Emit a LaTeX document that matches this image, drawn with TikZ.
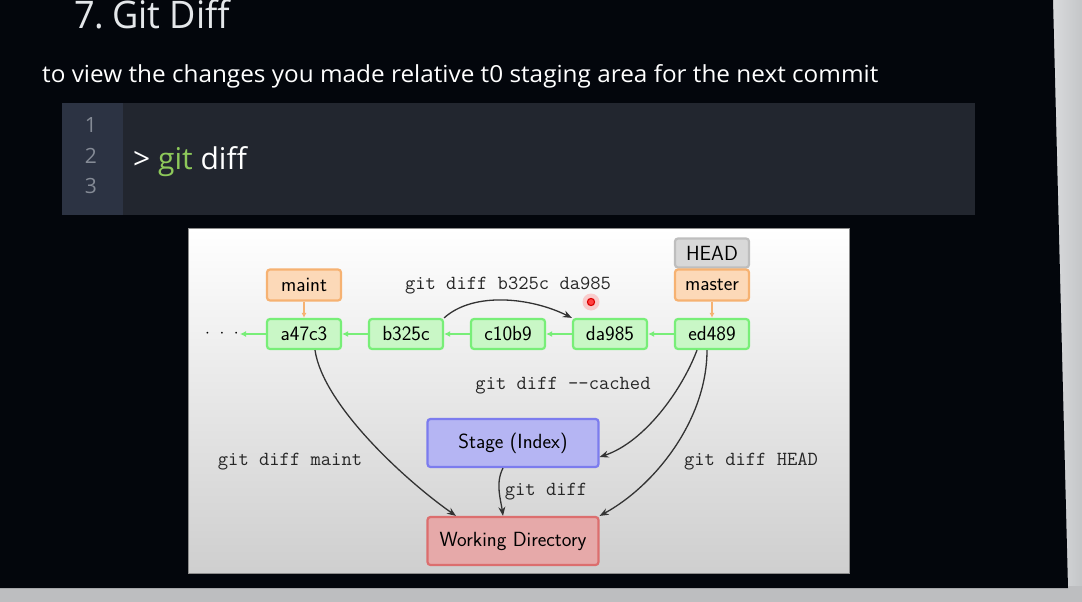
\documentclass[tikz,border=0pt]{standalone}
\usepackage{fontspec}
\newfontfamily\slidefont{Open Sans}
\newfontfamily\subfont[FakeStretch=1.035]{Open Sans}
\newfontfamily\headfont[FakeStretch=0.95]{Open Sans}
\usetikzlibrary{arrows.meta}

\definecolor{screenbg}{HTML}{03060C}
\definecolor{framelight}{HTML}{E2E3E5}
\definecolor{framedark}{HTML}{C4C6C8}
\definecolor{framebottom}{HTML}{BDBEC0}
\definecolor{codebg}{HTML}{22262F}
\definecolor{gutterbg}{HTML}{2C3343}
\definecolor{lineno}{HTML}{858B96}
\definecolor{gitgreen}{HTML}{8DC85A}
\definecolor{titlecol}{HTML}{E4E7EA}
\definecolor{commitfill}{HTML}{C9F7C6}
\definecolor{commitdraw}{HTML}{78EE78}
\definecolor{branchfill}{HTML}{FCD9B8}
\definecolor{branchdraw}{HTML}{F6B272}
\definecolor{headfill}{HTML}{D8D8D8}
\definecolor{headdraw}{HTML}{BEBEBE}
\definecolor{stagefill}{HTML}{B5B5F3}
\definecolor{stagedraw}{HTML}{7C7CEE}
\definecolor{wdfill}{HTML}{E6A9A9}
\definecolor{wddraw}{HTML}{DC6E6E}
\definecolor{linkcol}{HTML}{333333}

\tikzset{
  box/.style={line width=2.2pt, rounded corners=3pt, inner sep=0pt,
    font=\sffamily\fontsize{20.5}{20.5}\selectfont},
  commit/.style={box, draw=commitdraw, fill=commitfill, minimum width=74pt, minimum height=30pt},
  branch/.style={box, draw=branchdraw, fill=branchfill, minimum width=74pt, minimum height=31pt},
  headbox/.style={box, draw=headdraw, fill=headfill, minimum width=74pt, minimum height=29pt},
  area/.style={box, minimum width=171pt, minimum height=48pt},
  parent/.style={draw=commitdraw, line width=1.8pt, -{Latex[length=6pt,width=6pt]}},
  points/.style={draw=branchdraw, line width=1.5pt, -{Latex[length=5pt,width=5pt]}},
  diffcurve/.style={draw=linkcol, line width=1.3pt, -{Stealth[length=9pt,width=7pt]}},
  cmd/.style={font=\ttfamily\fontsize{20}{20}\selectfont, text=black!85, inner sep=0pt}
}

\begin{document}
\begin{tikzpicture}[x=1pt,y=-1pt]
\useasboundingbox (0,0) rectangle (1082,602);

% screen frame and dark slide area
\shade[left color=framelight, right color=framedark] (1040,0) rectangle (1082,602);
\fill[framebottom] (0,586) rectangle (1082,602);
\fill[screenbg] (0,0) -- (1053,0) -- (1068,588) -- (0,588) -- cycle;

% slide heading
\node[anchor=base west, inner sep=0pt, text=titlecol, font=\headfont\fontsize{38}{38}\selectfont] (title) at (74,29) {7.\hspace{-0.12em} Git Diff};
\node[anchor=base west, inner sep=0pt, text=white, font=\subfont\fontsize{23.5}{23.5}\selectfont] (subtitle) at (42,82)
  {to view the changes you made relative t0 staging area for the next commit};

% code block
\fill[codebg] (62,103) rectangle (975,215);
\fill[gutterbg] (62,103) rectangle (123,215);
\foreach \n/\yy in {1/125,2/156,3/186}
  \node[text=lineno, font=\slidefont\fontsize{21}{21}\selectfont, inner sep=0pt] (ln\n) at (91,\yy) {\n};
\node[anchor=base west, inner sep=0pt, text=white, font=\slidefont\fontsize{30}{30}\selectfont] (cmdline) at (133,169)
  {> \textcolor{gitgreen}{git} diff};

% diagram panel
\shade[top color=white, middle color=white, bottom color=black!19] (188,228) rectangle (849,573);
\draw[black!45, line width=0.6pt] (188,228) rectangle (849,573);

% commits
\node[commit] (a47c3) at (304,334) {a47c3};
\node[commit] (b325c) at (406,334) {b325c};
\node[commit] (c10b9) at (508,334) {c10b9};
\node[commit] (da985) at (610,334) {da985};
\node[commit] (ed489) at (712,334) {ed489};
\node[font=\sffamily\fontsize{19}{19}\selectfont, inner sep=1pt] (older) at (222,334) {$\cdot\,\,\cdot\,\,\cdot$};

% refs
\node[headbox] (head) at (712,253) {HEAD};
\node[branch] (maint) at (304,285) {maint};
\node[branch] (master) at (712,285) {master};

% work areas
\node[area, draw=stagedraw, fill=stagefill] (stage) at (513,443) {Stage (Index)};
\node[area, draw=wddraw, fill=wdfill] (wd) at (513,541) {Working Directory};

% history links
\draw[parent] (ed489) -- (da985);
\draw[parent] (da985) -- (c10b9);
\draw[parent] (c10b9) -- (b325c);
\draw[parent] (b325c) -- (a47c3);
\draw[parent] (a47c3) -- (older);
\draw[points] (maint) -- (a47c3);
\draw[points] (master) -- (ed489);

% diff commands
\draw[diffcurve] (b325c.north east) .. controls +(30,-27) and +(-40,-20) .. (da985.north west);
\draw[diffcurve] ([xshift=-15pt]ed489.south) .. controls +(-15,40) and +(45,-15) .. ([yshift=-14pt]stage.east);
\draw[diffcurve] ([xshift=-5pt]ed489.south) .. controls +(0,70) and +(55,-30) .. (wd.north east);
\draw[diffcurve] ([xshift=11pt]a47c3.south) .. controls +(8,55) and +(-50,-35) .. ([xshift=-57pt]wd.north);
\draw[diffcurve] ([xshift=-10pt]stage.south) .. controls +(-8,15) and +(-2,-15) .. ([xshift=-10pt]wd.north);

\node[cmd] (lbl1) at (508,286) {git diff b325c da985};
\node[cmd] (lbl2) at (563,386) {git diff --cached};
\node[cmd] (lbl3) at (751,462) {git diff HEAD};
\node[cmd] (lbl4) at (290,462) {git diff maint};
\node[cmd] (lbl5) at (546,492) {git diff};

% pointer highlight
\fill[red!40, opacity=0.45] (591,302) circle (8.5);
\draw[red!85!black, fill=red!75, line width=1.1pt] (591,302) circle (3.6);
\end{tikzpicture}
\end{document}
